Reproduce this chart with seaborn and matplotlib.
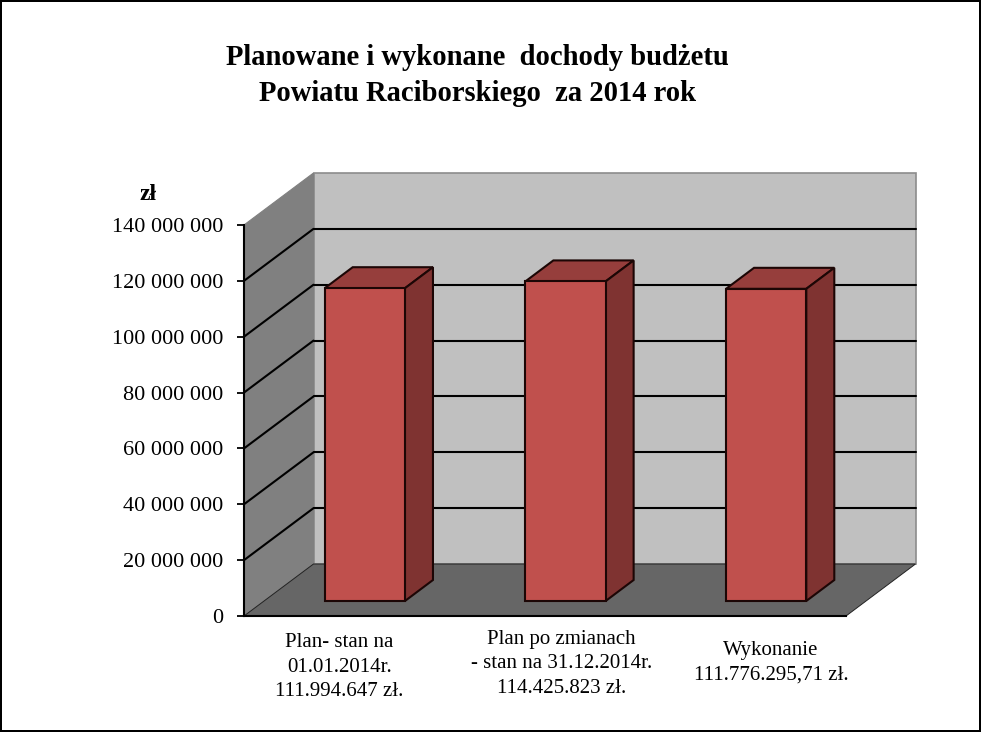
import matplotlib
matplotlib.use('Agg')
import matplotlib.pyplot as plt
import seaborn as sns
import pandas as pd
from matplotlib.patches import Polygon
from matplotlib.ticker import FuncFormatter
from matplotlib.transforms import Affine2D

# dane
kategorie = ['Plan- stan na\n01.01.2014r.\n111.994.647 zł.',
             'Plan po zmianach\n- stan na 31.12.2014r.\n114.425.823 zł.',
             'Wykonanie\n111.776.295,71 zł.']
wartosci = [111994647, 114425823, 111776295.71]
podzialka = [0, 20000000, 40000000, 60000000, 80000000, 100000000, 120000000, 140000000]
tytul = 'Planowane i wykonane  dochody budżetu\nPowiatu Raciborskiego  za 2014 rok'
jednostka = 'zł'

W, H = 981, 732
sns.set_theme(style='white')
plt.rcParams['font.family'] = ['Liberation Serif', 'DejaVu Serif']

fig = plt.figure(figsize=(W / 100, H / 100), dpi=100, facecolor='white', edgecolor='black', linewidth=1.6)

# plaszczyzna przednia wykresu, w pikselach obrazka
x0, x1, y_dol, y_gora = 244, 846, 616, 225
ax = fig.add_axes([x0 / W, 1 - y_dol / H, (x1 - x0) / W, (y_dol - y_gora) / H])
ax.set_facecolor('none')

df = pd.DataFrame({'kategoria': kategorie, 'wartosc': wartosci})
sns.barplot(data=df, x='kategoria', y='wartosc', ax=ax, color='#C0504D', saturation=1,
            width=0.4, edgecolor='#1c0605', linewidth=1.5, zorder=5)

ax.set_xlim(-0.5, 2.5)
ax.set_ylim(0, 140000000)
ax.set_yticks(podzialka)
ax.yaxis.set_major_formatter(FuncFormatter(lambda v, p: f'{int(v):,}'.replace(',', ' ')))
ax.tick_params(axis='y', length=5, width=1.3, color='black', labelsize=16, labelcolor='black', pad=10, left=True)
ax.tick_params(axis='x', length=0, labelbottom=False)
ax.set_xlabel('')
ax.set_ylabel('')
for s in ['top', 'right']:
    ax.spines[s].set_visible(False)
for s in ['left', 'bottom']:
    ax.spines[s].set_color('black')
    ax.spines[s].set_linewidth(1.5)


def przesun(dx, dy):
    return ax.transData + Affine2D().translate(dx, dy)


# glebia: sciana tylna lezy 69.5 px w prawo i 52 px w gore
gleb = przesun(69.5, 52)
xa, xb = ax.get_xlim()
ya, yb = ax.get_ylim()

# sciana tylna
ax.add_patch(Polygon([(xa, ya), (xb, ya), (xb, yb), (xa, yb)], closed=True, transform=gleb, clip_on=False,
                     facecolor='#C0C0C0', edgecolor='#8c8c8c', linewidth=1.2, zorder=0.5))

# sciana lewa, podana w pikselach ekranu
lewa = ax.transData.transform([(xa, ya), (xa, yb)])
ax.add_patch(Polygon([lewa[0], lewa[1], lewa[1] + (69.5, 52), lewa[0] + (69.5, 52)], closed=True, transform=None,
                     clip_on=False, facecolor='#808080', edgecolor='#808080', linewidth=0.8, zorder=0.6))

# linie siatki na scianach, bez gornej krawedzi
for v in podzialka[1:-1]:
    ax.plot([xa, xb], [v, v], color='black', lw=1.5, transform=gleb, clip_on=False, zorder=0.7)
    p = ax.transData.transform((xa, v))
    ax.plot([p[0], p[0] + 69.5], [p[1], p[1] + 52], color='black', lw=1.5, transform=None, clip_on=False, zorder=0.8)

# podloga
d = ax.transData.transform([(xa, ya), (xb, ya)])
ax.add_patch(Polygon([d[0], d[1], d[1] + (69.5, 52), d[0] + (69.5, 52)], closed=True, transform=None, clip_on=False,
                     facecolor='#666666', edgecolor='#222222', linewidth=0.7, zorder=1))

# slupki: przod przesuniety w glab, boki i gora dorysowane
sx, sy = 20.5, 15
gx, gy = 28, 21
for patch in ax.patches:
    if patch.get_zorder() != 5:
        continue
    px, pw, ph = patch.get_x(), patch.get_width(), patch.get_height()
    patch.set_transform(przesun(sx, sy))
    patch.set_clip_on(False)
    r = przesun(sx, sy).transform([(px, 0), (px + pw, 0), (px + pw, ph), (px, ph)])
    g = (gx, gy)
    ax.add_patch(Polygon([r[3], r[2], r[2] + g, r[3] + g], closed=True, transform=None, clip_on=False,
                         facecolor='#963E3C', edgecolor='#1c0605', linewidth=1.5, zorder=4))
    ax.add_patch(Polygon([r[1], r[2], r[2] + g, r[1] + g], closed=True, transform=None, clip_on=False,
                         facecolor='#7F3331', edgecolor='#1c0605', linewidth=1.5, zorder=4))

# opisy
pozycje = [(339.5, 667), (561.5, 664), (771, 663)]
for tekst, (px, py) in zip(kategorie, pozycje):
    fig.text(px / W, 1 - py / H, tekst, ha='center', va='center', fontsize=15, color='black', linespacing=1.36)

fig.text(477.5 / W, 1 - 75.5 / H, tytul, ha='center', va='center', fontsize=20.6, fontweight='bold', color='black',
         linespacing=1.42)
fig.text(147.5 / W, 1 - 195 / H, jednostka, ha='center', va='center', fontsize=17, fontweight='bold', color='black')

fig.savefig('out.png', dpi=100)
